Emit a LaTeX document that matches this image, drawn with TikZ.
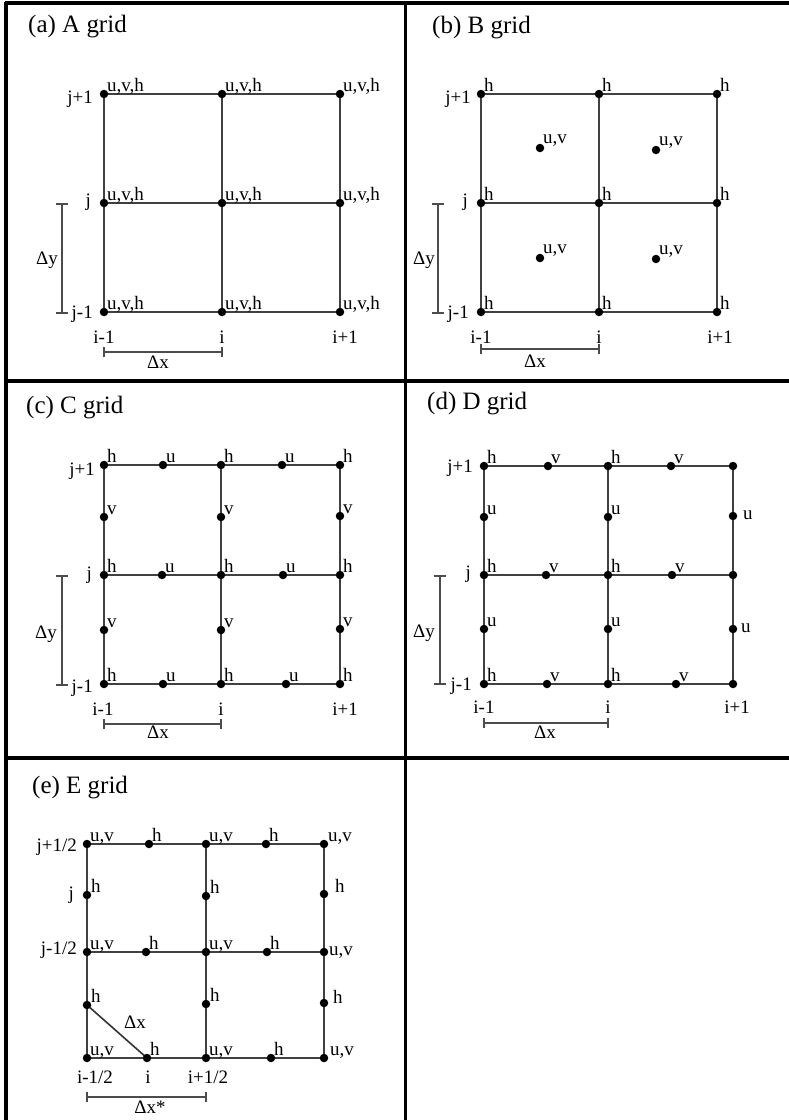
\documentclass[tikz,border=0pt]{standalone}
\usepackage{fontspec}
\setmainfont{Liberation Serif}
\usetikzlibrary{calc}
\tikzset{
 gridline/.style={draw=black!75, line width=1.9pt},
 dot/.style={circle, fill=black, inner sep=0pt, minimum size=8.5pt},
 lab/.style={inner sep=0pt, font=\fontsize{19}{19}\selectfont, anchor=base west},
 axlab/.style={inner sep=0pt, font=\fontsize{19}{19}\selectfont},
 ttl/.style={inner sep=0pt, font=\fontsize{25}{25}\selectfont, anchor=base west},
 frameline/.style={line width=3.5pt, draw=black},
 barline/.style={draw=black!70, line width=1.3pt},
 diagline/.style={draw=black!80, line width=1.6pt},
}
% grid: name, x0,x1,x2, y0,y1,y2
\newcommand\mkgrid[7]{%
 \foreach \cc/\xx in {0/#2,1/#3,2/#4}{\foreach \rr/\yy in {0/#5,1/#6,2/#7}{\coordinate (#1-\cc-\rr) at (\xx,\yy);}}
 \draw[gridline] (#1-0-0) -- (#1-2-0) (#1-0-1) -- (#1-2-1) (#1-0-2) -- (#1-2-2)
   (#1-0-0) -- (#1-0-2) (#1-1-0) -- (#1-1-2) (#1-2-0) -- (#1-2-2);
}
% dot with label: coordinate, dx, dy, text
\newcommand\dotl[4]{\node[dot] (#1-d) at (#1) {}; \node[lab] (#1-l) at ([xshift=#2pt,yshift=#3pt]#1) {#4};}
\newcommand\hmeas[4]{% name, y, x1, x2
 \coordinate (#1-s) at (#3,#2); \coordinate (#1-e) at (#4,#2);
 \draw[barline] (#1-s) -- (#1-e) ([yshift=5pt]#1-s) -- ([yshift=-5pt]#1-s) ([yshift=5pt]#1-e) -- ([yshift=-5pt]#1-e);}
\newcommand\vmeas[4]{% name, x, y1, y2
 \coordinate (#1-s) at (#2,#3); \coordinate (#1-e) at (#2,#4);
 \draw[barline] (#1-s) -- (#1-e) ([xshift=-6pt]#1-s) -- ([xshift=6pt]#1-s) ([xshift=-6pt]#1-e) -- ([xshift=6pt]#1-e);}

\begin{document}
\begin{tikzpicture}[x=1pt,y=-1pt]
\useasboundingbox (0,0) rectangle (789,1120);
\fill[white] (0,0) rectangle (789,1120);

% ---------- frame ----------
\draw[frameline] (5,3) -- (789,3);
\draw[frameline] (6,1.5) -- (6,1120);
\draw[frameline] (405.5,1.5) -- (405.5,1120);
\draw[frameline] (5,381) -- (789,381);
\draw[frameline] (5,758) -- (789,758);

% ---------- (a) A grid ----------
\node[ttl] (ta) at (28,32) {(a) A grid};
\mkgrid{a}{104}{222}{340}{94}{203}{312}
\foreach \cc in {0,1,2}{\foreach \rr in {0,1,2}{\dotl{a-\cc-\rr}{3}{3}{u,v,h}}}
\node[axlab, anchor=base east] (a-j2) at (93,103) {j+1};
\node[axlab, anchor=base east] (a-j1) at (91,206) {j};
\node[axlab, anchor=base east] (a-j0) at (93,318) {j-1};
\vmeas{a-dy}{62}{204}{313}
\node[axlab, anchor=base] (a-dyl) at (47,264) {Δy};
\node[axlab, anchor=base] (a-i0) at (104,343) {i-1};
\node[axlab, anchor=base] (a-i1) at (222,343) {i};
\node[axlab, anchor=base] (a-i2) at (345,343) {i+1};
\hmeas{a-dx}{352}{104}{222}
\node[axlab, anchor=base] (a-dxl) at (158,368) {Δx};

% ---------- (b) B grid ----------
\node[ttl] (tb) at (432,33) {(b) B grid};
\mkgrid{b}{481}{599}{717}{94}{203}{312}
\foreach \cc in {0,1,2}{\foreach \rr in {0,1,2}{\dotl{b-\cc-\rr}{3}{3}{h}}}
\coordinate (b-c1) at (540,148);
\coordinate (b-c2) at (656,150);
\coordinate (b-c3) at (540,258);
\coordinate (b-c4) at (656,259);
\foreach \k in {1,2,3,4}{\dotl{b-c\k}{3}{5}{u,v}}
\node[axlab, anchor=base east] (b-j2) at (471,103) {j+1};
\node[axlab, anchor=base east] (b-j1) at (468,206) {j};
\node[axlab, anchor=base east] (b-j0) at (469,318) {j-1};
\vmeas{b-dy}{438}{204}{313}
\node[axlab, anchor=base] (b-dyl) at (424,264) {Δy};
\node[axlab, anchor=base] (b-i0) at (481,343) {i-1};
\node[axlab, anchor=base] (b-i1) at (599,343) {i};
\node[axlab, anchor=base] (b-i2) at (720,343) {i+1};
\hmeas{b-dx}{349}{481}{599}
\node[axlab, anchor=base] (b-dxl) at (535,367) {Δx};

% ---------- (c) C grid ----------
\node[ttl] (tc) at (26,413) {(c) C grid};
\mkgrid{c}{104}{221}{340}{465}{575}{684}
\foreach \cc in {0,1,2}{\foreach \rr in {0,1,2}{\dotl{c-\cc-\rr}{3}{3}{h}}}
\coordinate (c-u1) at (163,465);
\coordinate (c-u2) at (282,465);
\coordinate (c-u3) at (162,575);
\coordinate (c-u4) at (283,575);
\coordinate (c-u5) at (163,684);
\coordinate (c-u6) at (286,684);
\foreach \k in {1,...,6}{\dotl{c-u\k}{3}{3}{u}}
\coordinate (c-v1) at (104,517);
\coordinate (c-v2) at (221,517);
\coordinate (c-v3) at (340,516);
\coordinate (c-v4) at (104,630);
\coordinate (c-v5) at (221,630);
\coordinate (c-v6) at (340,629);
\foreach \k in {1,...,6}{\dotl{c-v\k}{3}{3}{v}}
\node[axlab, anchor=base east] (c-j2) at (95,475) {j+1};
\node[axlab, anchor=base east] (c-j1) at (92,579) {j};
\node[axlab, anchor=base east] (c-j0) at (93,692) {j-1};
\vmeas{c-dy}{62}{576}{685}
\node[axlab, anchor=base] (c-dyl) at (46,638) {Δy};
\node[axlab, anchor=base] (c-i0) at (103,715) {i-1};
\node[axlab, anchor=base] (c-i1) at (221,715) {i};
\node[axlab, anchor=base] (c-i2) at (345,715) {i+1};
\hmeas{c-dx}{724}{104}{221}
\node[axlab, anchor=base] (c-dxl) at (158,738) {Δx};

% ---------- (d) D grid ----------
\node[ttl] (td) at (427,409) {(d) D grid};
\mkgrid{d}{484}{608}{733}{466}{575}{684}
\foreach \cc in {0,1}{\foreach \rr in {0,1,2}{\dotl{d-\cc-\rr}{3}{3}{h}}}
\foreach \rr in {0,1,2}{\node[dot] (d-2-\rr-d) at (d-2-\rr) {};}
\coordinate (d-v1) at (548,466);
\coordinate (d-v2) at (671,466);
\coordinate (d-v3) at (546,575);
\coordinate (d-v4) at (672,575);
\coordinate (d-v5) at (547,684);
\coordinate (d-v6) at (676,684);
\foreach \k in {1,...,6}{\dotl{d-v\k}{3}{3}{v}}
\coordinate (d-u1) at (484,517);
\coordinate (d-u2) at (608,517);
\coordinate (d-u3) at (733,516);
\coordinate (d-u4) at (484,629);
\coordinate (d-u5) at (608,629);
\coordinate (d-u6) at (733,629);
\foreach \k in {1,2,4,5}{\dotl{d-u\k}{3}{3}{u}}
\dotl{d-u3}{10}{-3}{u}
\dotl{d-u6}{8}{-3}{u}
\node[axlab, anchor=base east] (d-j2) at (473,472) {j+1};
\node[axlab, anchor=base east] (d-j1) at (471,578) {j};
\node[axlab, anchor=base east] (d-j0) at (472,690) {j-1};
\vmeas{d-dy}{440}{576}{684}
\node[axlab, anchor=base] (d-dyl) at (424,637) {Δy};
\node[axlab, anchor=base] (d-i0) at (484,713) {i-1};
\node[axlab, anchor=base] (d-i1) at (608,713) {i};
\node[axlab, anchor=base] (d-i2) at (737,713) {i+1};
\hmeas{d-dx}{723}{484}{608}
\node[axlab, anchor=base] (d-dxl) at (545,738) {Δx};

% ---------- (e) E grid ----------
\node[ttl] (te) at (32,793) {(e) E grid};
\mkgrid{e}{87}{206}{324}{844}{952}{1058}
\coordinate (e-h1) at (149,844);
\coordinate (e-h2) at (266,844);
\coordinate (e-h3) at (146,952);
\coordinate (e-h4) at (267,952);
\coordinate (e-h5) at (147,1058);
\coordinate (e-h6) at (271,1058);
\coordinate (e-g1) at (87,895);
\coordinate (e-g2) at (206,896);
\coordinate (e-g3) at (324,894);
\coordinate (e-g4) at (87,1005);
\coordinate (e-g5) at (206,1004);
\coordinate (e-g6) at (324,1003);
\draw[diagline] (e-g4) -- (e-h5);
\foreach \cc in {0,1}{\foreach \rr in {0,1,2}{\dotl{e-\cc-\rr}{3}{3}{u,v}}}
\dotl{e-2-0}{4}{3}{u,v}
\dotl{e-2-1}{5}{-3}{u,v}
\dotl{e-2-2}{6}{3}{u,v}
\foreach \k in {1,...,6}{\dotl{e-h\k}{3}{3}{h}}
\foreach \k in {1,2,4,5}{\dotl{e-g\k}{4}{3}{h}}
\dotl{e-g3}{11}{2}{h}
\dotl{e-g6}{9}{0}{h}
\node[axlab, anchor=base] (e-dxd) at (135,1028) {Δx};
\node[axlab, anchor=base east] (e-j2) at (77,851) {j+1/2};
\node[axlab, anchor=base east] (e-j1) at (74,899) {j};
\node[axlab, anchor=base east] (e-j0) at (77,954) {j-1/2};
\node[axlab, anchor=base] (e-i0) at (95,1083) {i-1/2};
\node[axlab, anchor=base] (e-i1) at (148,1083) {i};
\node[axlab, anchor=base] (e-i2) at (208,1083) {i+1/2};
\hmeas{e-dx}{1097}{87}{206}
\node[axlab, anchor=base] (e-dxl) at (150,1113) {Δx*};
\end{tikzpicture}
\end{document}
